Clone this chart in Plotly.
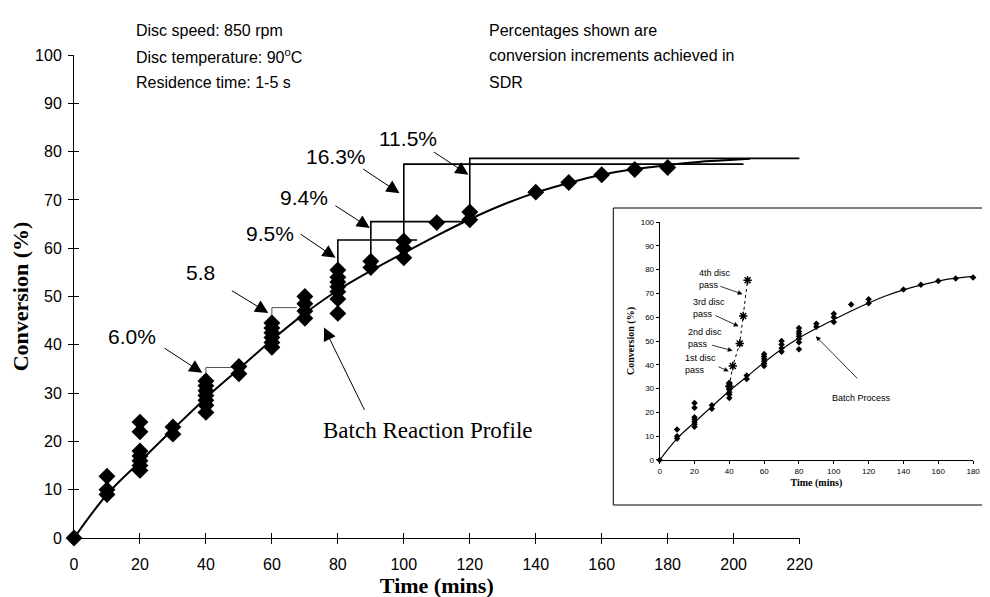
import plotly.graph_objects as go

SANS = "Liberation Sans, Arial, sans-serif"
SERIF = "Liberation Serif, Times New Roman, serif"

# batch reaction measurements (time in mins, conversion %)
batch_t = [0,
           10, 10, 10,
           20, 20, 20, 20, 20, 20, 20,
           30, 30,
           40, 40, 40, 40, 40, 40, 40,
           50, 50,
           60, 60, 60, 60, 60, 60,
           70, 70, 70, 70,
           80, 80, 80, 80, 80, 80, 80,
           90, 90,
           100, 100, 100,
           110,
           120, 120,
           140, 150, 160, 170, 180]
batch_conv = [0,
              9, 10, 12.8,
              14, 15, 16, 17, 18, 22, 24,
              21.5, 23,
              26, 27.5, 28.5, 29.5, 30.5, 31.5, 32.5,
              34, 35.5,
              39.5, 40.5, 41.5, 42.5, 43.5, 44.5,
              45.5, 47, 48.5, 50,
              46.5, 49.5, 51, 52, 53, 54, 55.5,
              56, 57.3,
              58, 60, 61.5,
              65.3,
              65.9, 67.5,
              71.6, 73.6, 75.2, 76.3, 76.7]

# batch reaction profile (fitted curve)
curve_t = [0, 10, 20, 30, 40, 50, 60, 70, 80, 90, 100, 110, 120, 130, 140,
           150, 160, 170, 180, 190, 200, 205]
curve_conv = [0, 9, 15.8, 22.5, 29, 35, 41, 46.5, 51.3, 55.3, 59, 62.6, 66,
              69, 71.5, 73.5, 75.2, 76.4, 77.2, 77.9, 78.3, 78.5]

# SDR conversion increments: jump then hold
inc_labels = ["6.0%", "5.8", "9.5%", "9.4%", "16.3%", "11.5%"]
inc_t = [[40, 40, 48], [60, 60, 67.5], [80, 80, 104], [90, 90, 119],
         [100, 100, 203], [120, 120, 220]]
inc_conv = [[29.5, 35.3, 35.3], [41.5, 47.7, 47.7], [52, 61.7, 61.7],
            [56, 65.5, 65.5], [61, 77.4, 77.4], [67, 78.6, 78.6]]
inc_label_pos = [(17.5, 41.8), (38.4, 54.9), (59.3, 63.1), (69.8, 70.4),
                 (79.3, 79.0), (101.2, 82.8)]
inc_arrow_tail = [(27, 39.5), (47.4, 51.4), (68.3, 63.1), (78.8, 69),
                  (87.2, 76.6), (108.7, 80.1)]
inc_arrow_tip = [(38.9, 34.2), (58.9, 46.6), (79.3, 58), (89.7, 64.2),
                 (98.7, 71.4), (119.6, 75.2)]

# inset: successive disc passes
pass_t = [40, 42, 46, 48, 50.5]
pass_conv = [31, 39.5, 49, 60.5, 75.5]
pass_labels = ["1st disc<br>pass", "2nd disc<br>pass", "3rd disc<br>pass",
               "4th disc<br>pass"]
pass_label_pos = [(13.2, 40.2), (15.1, 51.3), (18, 63.7), (21.5, 76.1)]
pass_arrow_tail = [(33, 39.4), (29.3, 48.4), (31.2, 61), (34, 73.2)]
pass_arrow_tip = [(39.7, 37.3), (41.9, 45.9), (45.3, 56.2), (47.6, 69.7)]

main_ticks_x = list(range(0, 221, 20))
main_ticks_y = list(range(0, 101, 10))
inset_ticks_x = list(range(0, 181, 20))

left_notes = ["Disc speed: 850 rpm", "Disc temperature: 90<sup>o</sup>C",
              "Residence time: 1-5 s"]
right_notes = ["Percentages shown are", "conversion increments achieved in", "SDR"]
note_rows = [1.05, 0.998, 0.944]   # paper y of each text row

fig = go.Figure()

# ---- main chart ----
fig.add_trace(go.Scatter(x=curve_t, y=curve_conv, mode="lines",
                         line=dict(color="black", width=2, shape="spline"),
                         cliponaxis=False, hoverinfo="skip"))
for i, (tx, ty) in enumerate(zip(inc_t, inc_conv)):
    thin = i < 2
    fig.add_trace(go.Scatter(x=tx, y=ty, mode="lines",
                             line=dict(color="#555" if thin else "black",
                                       width=1 if thin else 1.6),
                             cliponaxis=False, hoverinfo="skip"))
fig.add_trace(go.Scatter(x=batch_t, y=batch_conv, mode="markers",
                         marker=dict(symbol="diamond", size=13, color="black"),
                         cliponaxis=False))
# empty trace so the overlay axes (inner tick halves) get drawn
fig.add_trace(go.Scatter(x=[], y=[], xaxis="x3", yaxis="y3", hoverinfo="skip"))

# ---- inset chart ----
fig.add_trace(go.Scatter(x=curve_t[:19], y=curve_conv[:19], mode="lines",
                         line=dict(color="black", width=1.2, shape="spline"),
                         xaxis="x2", yaxis="y2", cliponaxis=False))
fig.add_trace(go.Scatter(x=batch_t, y=batch_conv, mode="markers",
                         marker=dict(symbol="diamond", size=5, color="black"),
                         xaxis="x2", yaxis="y2", cliponaxis=False))
fig.add_trace(go.Scatter(x=pass_t, y=pass_conv, mode="lines+markers",
                         line=dict(color="black", width=1, dash="dot"),
                         marker=dict(symbol="asterisk-open", size=7, color="black",
                                     line=dict(width=1.5, color="black")),
                         xaxis="x2", yaxis="y2", cliponaxis=False))

ann = []
for lab, (lx, ly) in zip(inc_labels, inc_label_pos):
    ann.append(dict(x=lx, y=ly, xref="x", yref="y", text=lab, showarrow=False,
                    font=dict(family=SANS, size=21, color="black")))
for (ax_, ay_), (tx_, ty_) in zip(inc_arrow_tail, inc_arrow_tip):
    ann.append(dict(x=tx_, y=ty_, ax=ax_, ay=ay_, xref="x", yref="y",
                    axref="x", ayref="y", text="", showarrow=True,
                    arrowhead=2, arrowsize=2.6, arrowwidth=1, arrowcolor="black"))
ann.append(dict(x=75.8, y=43.6, ax=88.3, ay=26.2, xref="x", yref="y",
                axref="x", ayref="y", text="", showarrow=True,
                arrowhead=2, arrowsize=2.6, arrowwidth=1, arrowcolor="black"))
ann.append(dict(x=74.8, y=22.2, xref="x", yref="y", xanchor="left",
                text="Batch Reaction Profile", showarrow=False,
                font=dict(family=SERIF, size=23, color="black")))

for txt, ry in zip(left_notes, note_rows):
    ann.append(dict(x=0.066, y=ry, xref="paper", yref="paper", xanchor="left",
                    yanchor="middle", text=txt, showarrow=False,
                    font=dict(family=SANS, size=16, color="black")))
for txt, ry in zip(right_notes, note_rows):
    ann.append(dict(x=0.455, y=ry, xref="paper", yref="paper", xanchor="left",
                    yanchor="middle", text=txt, showarrow=False,
                    font=dict(family=SANS, size=16, color="black")))

# inset annotations
for lab, (lx, ly) in zip(pass_labels, pass_label_pos):
    ann.append(dict(x=lx, y=ly, xref="x2", yref="y2", xanchor="left",
                    align="left", text=lab, showarrow=False,
                    font=dict(family=SANS, size=9, color="black")))
for (ax_, ay_), (tx_, ty_) in zip(pass_arrow_tail, pass_arrow_tip):
    ann.append(dict(x=tx_, y=ty_, ax=ax_, ay=ay_, xref="x2", yref="y2",
                    axref="x2", ayref="y2", text="", showarrow=True,
                    arrowhead=2, arrowsize=1.2, arrowwidth=0.8, arrowcolor="black"))
ann.append(dict(x=89.7, y=52, ax=114.3, ay=33.7, xref="x2", yref="y2",
                axref="x2", ayref="y2", text="", showarrow=True,
                arrowhead=2, arrowsize=1.2, arrowwidth=0.8, arrowcolor="black"))
ann.append(dict(x=116, y=26, xref="x2", yref="y2", text="Batch Process",
                showarrow=False, font=dict(family=SANS, size=9, color="black")))

fig.update_layout(
    width=990, height=597,
    margin=dict(l=66, r=4, t=47, b=67),
    paper_bgcolor="white", plot_bgcolor="rgba(0,0,0,0)",
    showlegend=False,
    annotations=ann,
    shapes=[dict(type="rect", xref="paper", yref="paper",
                 x0=0.5946, x1=1.02, y0=0.0683, y1=0.6832,
                 line=dict(color="black", width=1), fillcolor="white",
                 layer="below")],
    xaxis=dict(domain=[0, 0.8], range=[0, 220], tickvals=main_ticks_x,
               ticks="outside", ticklen=5, tickcolor="black",
               ticklabelstandoff=7,
               showline=True, linecolor="black", linewidth=1,
               showgrid=False, zeroline=False,
               tickfont=dict(family=SANS, size=16, color="black"),
               title=dict(text="<b>Time (mins)</b>", standoff=1,
                          font=dict(family=SERIF, size=22, color="black"))),
    yaxis=dict(domain=[0, 1], range=[0, 100], tickvals=main_ticks_y,
               ticks="outside", ticklen=5, tickcolor="black",
               ticklabelstandoff=3,
               showline=True, linecolor="black", linewidth=1,
               showgrid=False, zeroline=False,
               tickfont=dict(family=SANS, size=16, color="black"),
               title=dict(text="<b>Conversion (%)</b>", standoff=2,
                          font=dict(family=SERIF, size=22, color="black"))),
    # inner half of the crossing tick marks
    xaxis3=dict(overlaying="x", anchor="y", side="bottom", range=[0, 220],
                tickvals=main_ticks_x, ticks="inside", ticklen=5,
                tickcolor="black", showticklabels=False, showline=False,
                showgrid=False, zeroline=False),
    yaxis3=dict(overlaying="y", anchor="x", side="left", range=[0, 100],
                tickvals=main_ticks_y, ticks="inside", ticklen=5,
                tickcolor="black", showticklabels=False, showline=False,
                showgrid=False, zeroline=False),
    xaxis2=dict(domain=[0.6457, 0.9913], anchor="y2", range=[0, 180],
                tickvals=inset_ticks_x, ticks="outside", ticklen=3,
                tickcolor="black", showline=True, linecolor="black",
                linewidth=1, showgrid=False, zeroline=False,
                tickfont=dict(family=SANS, size=8, color="black"),
                title=dict(text="<b>Time (mins)</b>", standoff=4,
                           font=dict(family=SERIF, size=10, color="black"))),
    yaxis2=dict(domain=[0.1615, 0.6542], anchor="x2", range=[0, 100],
                tickvals=main_ticks_y, ticks="outside", ticklen=3,
                tickcolor="black", showline=True, linecolor="black",
                linewidth=1, showgrid=False, zeroline=False,
                tickfont=dict(family=SANS, size=8, color="black"),
                title=dict(text="<b>Conversion (%)</b>", standoff=4,
                           font=dict(family=SERIF, size=10, color="black"))),
)

fig.write_html("out.html")
